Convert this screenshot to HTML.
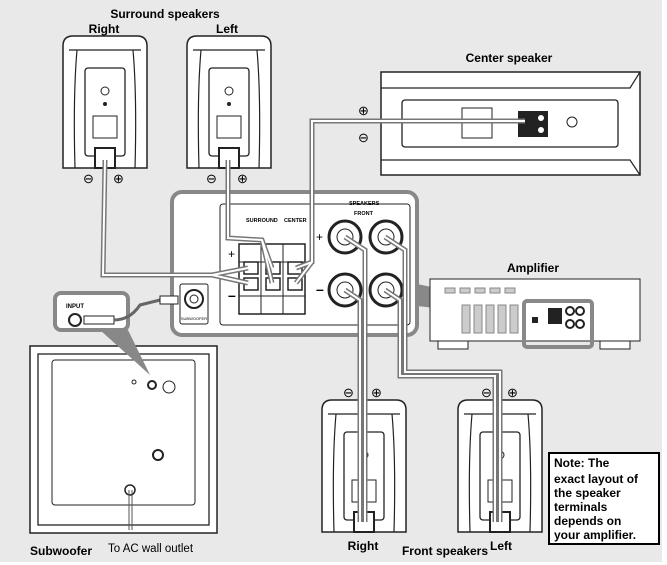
<!DOCTYPE html>
<html><head><meta charset="utf-8"><style>
html,body{margin:0;padding:0;background:#fff}
svg{display:block}
text{font-family:"Liberation Sans",sans-serif}
</style></head><body>
<svg width="667" height="565" viewBox="0 0 667 565" xmlns="http://www.w3.org/2000/svg">
<rect x="0" y="0" width="662" height="562" fill="#e9e9e9"/>
<defs>
<g id="spk">
 <path d="M0,10 Q0,0 10,0 L74,0 Q84,0 84,10 L84,132 L0,132 Z" fill="#fff" stroke="#222" stroke-width="1.5"/>
 <path d="M6,14 L78,14 M14,14 Q10,60 12,132 M70,14 Q74,60 72,132" fill="none" stroke="#222" stroke-width="1.2"/>
 <rect x="22" y="32" width="40" height="88" rx="3" fill="#fff" stroke="#222" stroke-width="1.3"/>
 <circle cx="42" cy="55" r="4" fill="none" stroke="#222"/>
 <circle cx="42" cy="68" r="2" fill="#222"/>
 <rect x="30" y="80" width="24" height="22" fill="#fff" stroke="#222"/>
 <rect x="32" y="112" width="20" height="20" fill="#fff" stroke="#222" stroke-width="2"/>
</g>
</defs>
<style>.w{fill:none;stroke:#777;stroke-width:5}.wi{fill:none;stroke:#fff;stroke-width:2}.t{font-weight:bold;font-size:12px}</style>

<!-- surround speakers -->
<text x="165" y="18" text-anchor="middle" class="t">Surround speakers</text>
<text x="104" y="33" text-anchor="middle" class="t">Right</text>
<text x="227" y="33" text-anchor="middle" class="t">Left</text>
<use href="#spk" x="63" y="36"/>
<use href="#spk" x="187" y="36"/>

<!-- center speaker -->
<text x="509" y="62" text-anchor="middle" class="t">Center speaker</text>
<rect x="381" y="72" width="259" height="103" fill="#fff" stroke="#222" stroke-width="1.5"/>
<path d="M381,88 L630,88 L640,72 M381,160 L630,160 L640,175" fill="none" stroke="#222" stroke-width="1.2"/>
<rect x="402" y="100" width="216" height="47" rx="3" fill="#fff" stroke="#222" stroke-width="1.3"/>
<rect x="462" y="108" width="30" height="30" fill="#fff" stroke="#222"/>
<rect x="518" y="111" width="30" height="26" fill="#222"/>
<circle cx="541" cy="118" r="3" fill="#fff"/><circle cx="541" cy="130" r="3" fill="#fff"/>
<circle cx="572" cy="122" r="5" fill="none" stroke="#222"/>
<text x="358" y="115" font-size="13">⊕</text><text x="358" y="142" font-size="13">⊖</text>

<!-- front speakers -->
<text x="343" y="397" font-size="13">⊖</text><text x="371" y="397" font-size="13">⊕</text>
<text x="481" y="397" font-size="13">⊖</text><text x="507" y="397" font-size="13">⊕</text>
<use href="#spk" x="322" y="400"/>
<use href="#spk" x="458" y="400"/>

<!-- amp panel callout -->
<path d="M417,284 L524,306 L524,318 L417,306 Z" fill="#888"/>
<rect x="172" y="192" width="245" height="143" rx="10" fill="#fff" stroke="#888" stroke-width="4"/>
<rect x="220" y="204" width="190" height="121" rx="3" fill="#fff" stroke="#222"/>
<rect x="180" y="284" width="28" height="40" rx="2" fill="#fff" stroke="#222"/>
<circle cx="194" cy="299" r="9" fill="#fff" stroke="#222" stroke-width="2"/><circle cx="194" cy="299" r="4" fill="none" stroke="#222"/>
<text x="194" y="320" font-size="4" text-anchor="middle">SUBWOOFER</text>
<text x="246" y="222" font-size="5.5" font-weight="bold">SURROUND</text><text x="284" y="222" font-size="5.5" font-weight="bold">CENTER</text>
<text x="349" y="205" font-size="5.5" font-weight="bold">SPEAKERS</text><text x="354" y="215" font-size="5.5" font-weight="bold">FRONT</text>
<rect x="239" y="244" width="66" height="70" fill="#fff" stroke="#222" stroke-width="1.5"/>
<path d="M261,244 V314 M283,244 V314 M239,262 H305 M239,296 H305" stroke="#222" fill="none"/>
<rect x="244" y="262" width="14" height="12" fill="none" stroke="#222" stroke-width="1.5"/><rect x="266" y="262" width="14" height="12" fill="none" stroke="#222" stroke-width="1.5"/><rect x="288" y="262" width="14" height="12" fill="none" stroke="#222" stroke-width="1.5"/>
<rect x="244" y="278" width="14" height="12" fill="none" stroke="#222" stroke-width="1.5"/><rect x="266" y="278" width="14" height="12" fill="none" stroke="#222" stroke-width="1.5"/><rect x="288" y="278" width="14" height="12" fill="none" stroke="#222" stroke-width="1.5"/>
<text x="228" y="258" font-size="12">+</text><text x="228" y="300" font-size="14" font-weight="bold">–</text>
<text x="316" y="241" font-size="12">+</text><text x="316" y="294" font-size="14" font-weight="bold">–</text>
<g fill="#fff" stroke="#222">
<circle cx="345" cy="237" r="16" stroke-width="3"/><circle cx="345" cy="237" r="8"/>
<circle cx="386" cy="237" r="16" stroke-width="3"/><circle cx="386" cy="237" r="8"/>
<circle cx="345" cy="290" r="16" stroke-width="3"/><circle cx="345" cy="290" r="8"/>
<circle cx="386" cy="290" r="16" stroke-width="3"/><circle cx="386" cy="290" r="8"/>
</g>

<!-- wires -->
<g>
<path class="w" d="M105,160 L103,275 L212,275 L248,268 M212,275 L248,283"/>
<path class="wi" d="M105,160 L103,275 L212,275 L248,268 M212,275 L248,283"/>
<path class="w" d="M228,160 L228,238 L262,240 L272,268 M262,240 L272,283"/>
<path class="wi" d="M228,160 L228,238 L262,240 L272,268 M262,240 L272,283"/>
<path class="w" d="M525,121 L312,121 L312,262 L296,268 M312,262 L296,283"/>
<path class="wi" d="M525,121 L312,121 L312,262 L296,268 M312,262 L296,283"/>
<path class="w" d="M345,237 L365,250 L365,522"/>
<path class="wi" d="M345,237 L365,250 L365,522"/>
<path class="w" d="M345,290 L360,300 L360,522"/>
<path class="wi" d="M345,290 L360,300 L360,522"/>
<path class="w" d="M385,237 L405,250 L405,372 L500,372 L500,522"/>
<path class="wi" d="M385,237 L405,250 L405,372 L500,372 L500,522"/>
<path class="w" d="M385,290 L400,300 L400,376 L495,376 L495,522"/>
<path class="wi" d="M385,290 L400,300 L400,376 L495,376 L495,522"/>
</g>
<text x="83" y="183" font-size="13">⊖</text><text x="113" y="183" font-size="13">⊕</text>
<text x="206" y="183" font-size="13">⊖</text><text x="237" y="183" font-size="13">⊕</text>

<!-- amplifier -->
<text x="533" y="272" text-anchor="middle" class="t">Amplifier</text>
<rect x="430" y="279" width="210" height="62" fill="#fff" stroke="#222"/>
<rect x="438" y="341" width="30" height="8" fill="#fff" stroke="#222"/><rect x="600" y="341" width="30" height="8" fill="#fff" stroke="#222"/>
<g fill="#ccc" stroke="#888"><rect x="445" y="288" width="10" height="5"/><rect x="460" y="288" width="10" height="5"/><rect x="475" y="288" width="10" height="5"/><rect x="490" y="288" width="10" height="5"/><rect x="505" y="288" width="10" height="5"/>
<rect x="462" y="305" width="8" height="28"/><rect x="474" y="305" width="8" height="28"/><rect x="486" y="305" width="8" height="28"/><rect x="498" y="305" width="8" height="28"/><rect x="510" y="305" width="8" height="28"/></g>
<rect x="524" y="301" width="68" height="46" rx="3" fill="none" stroke="#888" stroke-width="4"/>
<rect x="548" y="308" width="14" height="16" fill="#222"/>
<g fill="#fff" stroke="#222" stroke-width="2"><circle cx="570" cy="311" r="4"/><circle cx="580" cy="311" r="4"/><circle cx="570" cy="324" r="4"/><circle cx="580" cy="324" r="4"/></g>
<rect x="532" y="317" width="6" height="6" fill="#222"/>

<!-- subwoofer -->
<rect x="30" y="346" width="187" height="187" fill="#fff" stroke="#222" stroke-width="1.5"/>
<rect x="38" y="354" width="171" height="171" fill="#fff" stroke="#222" stroke-width="1.3"/>
<rect x="52" y="360" width="143" height="145" rx="3" fill="#fff" stroke="#222"/>
<circle cx="134" cy="382" r="2" fill="none" stroke="#222"/>
<circle cx="152" cy="385" r="4" fill="none" stroke="#222" stroke-width="2"/>
<circle cx="169" cy="387" r="6" fill="#fff" stroke="#222"/>
<circle cx="158" cy="455" r="5" fill="#fff" stroke="#222" stroke-width="2"/>
<circle cx="130" cy="490" r="5" fill="#fff" stroke="#222" stroke-width="1.5"/>
<path d="M129,490 V530 M132,490 V530" stroke="#555"/>
<path d="M100,330 L128,330 L150,375 Z" fill="#888"/>
<rect x="55" y="293" width="73" height="37" rx="6" fill="#fff" stroke="#888" stroke-width="4"/>
<text x="66" y="308" font-size="6" font-weight="bold">INPUT</text>
<circle cx="75" cy="320" r="6" fill="#fff" stroke="#222" stroke-width="2"/>
<rect x="84" y="316" width="30" height="8" fill="#fff" stroke="#222"/>
<path d="M114,320 Q130,320 140,305 L160,300" fill="none" stroke="#666" stroke-width="3"/>
<rect x="160" y="296" width="18" height="8" fill="#fff" stroke="#222"/>
<text x="30" y="555" class="t">Subwoofer</text>
<text x="108" y="552" font-size="11.5">To AC wall outlet</text>

<text x="363" y="550" text-anchor="middle" class="t">Right</text>
<text x="501" y="550" text-anchor="middle" class="t">Left</text>
<text x="445" y="555" text-anchor="middle" class="t">Front speakers</text>

<!-- note -->
<rect x="549" y="453" width="110" height="91" fill="#fff" stroke="#000" stroke-width="2"/>
<g class="t" font-size="11.5">
<text x="554" y="467">Note: The</text>
<text x="554" y="483">exact layout of</text>
<text x="554" y="497">the speaker</text>
<text x="554" y="511">terminals</text>
<text x="554" y="525">depends on</text>
<text x="554" y="539">your amplifier.</text>
</g>
</svg>
</body></html>
